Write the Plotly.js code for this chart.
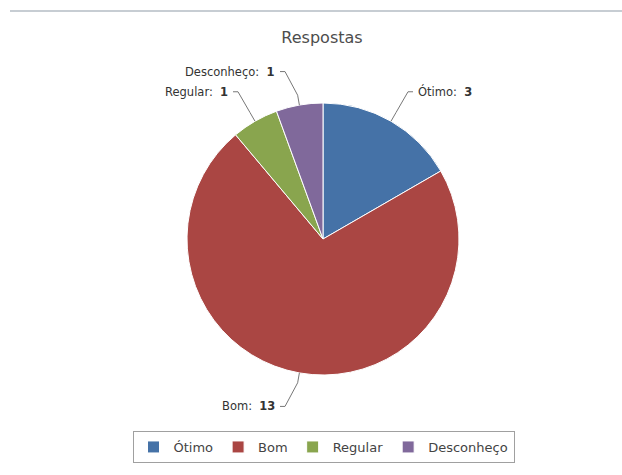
<!DOCTYPE html>
<html><head><meta charset="utf-8">
<script src="https://cdn.plot.ly/plotly-3.0.1.min.js"></script>
<style>html,body{margin:0;padding:0;background:#fff}</style>
</head><body><div id="chart" style="width:622px;height:475px"></div>
<script>
const categories = ["Ótimo", "Bom", "Regular", "Desconheço"];
const values = [3, 13, 1, 1];
const colors = ["#4572A7", "#AA4643", "#89A54E", "#80699B"];
const chartTitle = "Respostas";

const W = 622, H = 475;
const cx = 323, cy = 239, R = 136;
const px = x => x / W, py = y => 1 - y / H;

const total = values.reduce((a, b) => a + b, 0);
const annotations = [];
const shapes = [{type:'line', xref:'paper', yref:'paper', x0:px(10), x1:1, y0:py(11), y1:py(11),
  line:{color:'#b4bcc4', width:1.5}}];
let cum = 0;
values.forEach((v, i) => {
  const mid = (cum + v / 2) / total * 2 * Math.PI;
  cum += v;
  const s = Math.sin(mid), c = Math.cos(mid);
  const side = s >= 0 ? 1 : -1;
  const ex = cx + R * s, ey = cy - R * c;
  const mx = cx + (R + 10) * s, my = cy - (R + 10) * c;
  const rr = R + 34;
  const ly = cy - rr * c;
  const lx = cx + side * Math.max(rr * Math.abs(s), 38);
  const tx = lx + side * 5;
  shapes.push({type:'path', xref:'paper', yref:'paper',
    path:`M ${px(ex)} ${py(ey)} L ${px(mx)} ${py(my)} L ${px(lx)} ${py(ly)} L ${px(tx)} ${py(ly)}`,
    line:{color:'#777', width:1}});
  annotations.push({xref:'paper', yref:'paper', x:px(tx + side * 3), y:py(ly),
    xanchor: side > 0 ? 'left' : 'right', yanchor:'middle', showarrow:false,
    text: categories[i] + ':  <b>' + values[i] + '</b>',
    font:{family:'DejaVu Sans', size:11.5, color:'#333'}});
});

const trace = {
  type:'pie', labels:categories, values:values, sort:false, direction:'clockwise', rotation:0,
  marker:{colors:colors, line:{color:'#ffffff', width:1}},
  textinfo:'none', hoverinfo:'none',
  domain:{x:[px(cx - R), px(cx + R)], y:[py(cy + R), py(cy - R)]}
};

const layout = {
  width:W, height:H, margin:{l:0, r:0, t:0, b:0},
  paper_bgcolor:'#ffffff', plot_bgcolor:'#ffffff',
  title:{text:chartTitle, x:px(322), xanchor:'center', y:py(37), yanchor:'middle', yref:'container',
    font:{family:'DejaVu Sans', size:16, color:'#4d4d4d'}},
  showlegend:true,
  legend:{orientation:'h', x:px(323.5), xanchor:'center', y:py(447), yanchor:'middle',
    bordercolor:'#a0a0a0', borderwidth:1, bgcolor:'#fff',
    font:{family:'DejaVu Sans', size:13, color:'#444'}, itemwidth:30},
  annotations:annotations, shapes:shapes
};
Plotly.newPlot('chart', [trace], layout, {displayModeBar:false, staticPlot:true});
</script></body></html>
